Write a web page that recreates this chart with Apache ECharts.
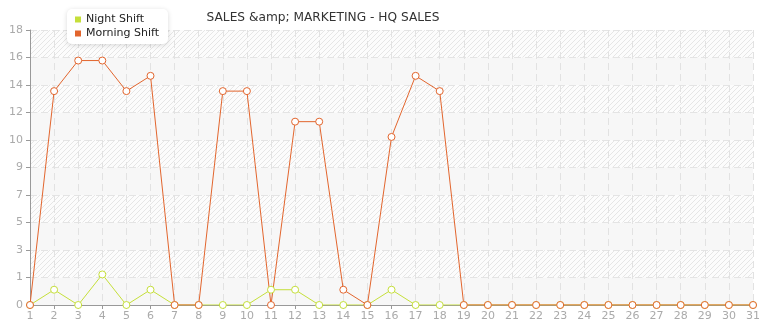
<!DOCTYPE html>
<html><head><meta charset="utf-8">
<script src="https://cdn.jsdelivr.net/npm/echarts@6/dist/echarts.min.js"></script>
<style>html,body{margin:0;padding:0;background:#fff}#c{width:765px;height:320px}</style>
</head><body><div id="c"></div>
<script>
const categories = ['1','2','3','4','5','6','7','8','9','10','11','12','13','14','15','16','17','18','19','20','21','22','23','24','25','26','27','28','29','30','31'];
const nightShift = [0,1,0,2,0,1,0,0,0,0,1,1,0,0,0,1,0,0,0,0,0,0,0,0,0,0,0,0,0,0,0];
const morningShift = [0,14,16,16,14,15,0,0,14,14,0,12,12,1,0,11,15,14,0,0,0,0,0,0,0,0,0,0,0,0,0];
const titleText = 'SALES &amp; MARKETING - HQ SALES';
const seriesNames = ['Night Shift','Morning Shift'];
const seriesColors = ['#c5df3a', '#e2652d'];

function hatch(){
  const c = document.createElement('canvas'); c.width = 5; c.height = 5;
  const g = c.getContext('2d');
  g.fillStyle = '#fcfcfc'; g.fillRect(0,0,5,5);
  g.strokeStyle = '#e6e6e6'; g.lineWidth = 1;
  g.beginPath(); g.moveTo(0,5); g.lineTo(5,0); g.moveTo(-1,1); g.lineTo(1,-1); g.moveTo(4,6); g.lineTo(6,4); g.stroke();
  return {image: c, repeat: 'repeat'};
}
const font = 'DejaVu Sans, Verdana, sans-serif';
const chart = echarts.init(document.getElementById('c'), null, {renderer:'canvas'});
chart.setOption({
  animation: false,
  backgroundColor: '#fff',
  textStyle: {fontFamily: font},
  title: {text: titleText, left: 318, top: 7, textAlign: 'center',
    textStyle: {fontSize: 12.2, fontWeight: 'normal', color: '#333', fontFamily: font}},
  legend: {
    orient: 'vertical', left: 67, top: 9, itemWidth: 6, itemHeight: 6, itemGap: 3,
    icon: 'rect', padding: [5, 9, 5, 8],
    backgroundColor: '#fff', borderRadius: 5,
    shadowColor: 'rgba(0,0,0,0.15)', shadowBlur: 5, shadowOffsetY: 1,
    textStyle: {fontSize: 11, color: '#222', fontFamily: font},
    data: seriesNames.map((n, i) => ({name: n, itemStyle: {color: seriesColors[i], borderWidth: 0}}))
  },
  grid: {left: 30, right: 12, top: 30, bottom: 15, containLabel: false, outerBoundsMode: 'none'},
  xAxis: {
    type: 'category', data: categories, boundaryGap: false,
    axisLine: {lineStyle: {color: '#999', width: 1}},
    axisTick: {show: true, alignWithLabel: true, length: 4, lineStyle: {color: '#999'}},
    axisLabel: {color: '#aaa', fontSize: 11, margin: 6, interval: 0},
    splitLine: {show: true, lineStyle: {color: '#e2e2e2', type: [7, 4]}}
  },
  yAxis: {
    type: 'value', min: 0, max: 18, interval: 1.8,
    axisLine: {show: true, lineStyle: {color: '#999', width: 1}},
    axisTick: {show: true, length: 4, lineStyle: {color: '#999'}},
    axisLabel: {color: '#aaa', fontSize: 11, margin: 7, formatter: v => String(Math.floor(v + 1e-9))},
    splitLine: {show: true, lineStyle: {color: '#e4e4e4', type: [7, 4]}},
    splitArea: {show: true, areaStyle: {color: ['#f7f7f7', hatch()]}}
  },
  series: seriesNames.map((n, i) => ({
    name: n, type: 'line', data: i === 0 ? nightShift : morningShift,
    symbol: 'circle', symbolSize: 7,
    lineStyle: {width: 1, color: seriesColors[i]},
    itemStyle: {color: '#fff', borderColor: seriesColors[i], borderWidth: 1}
  }))
});
</script></body></html>
